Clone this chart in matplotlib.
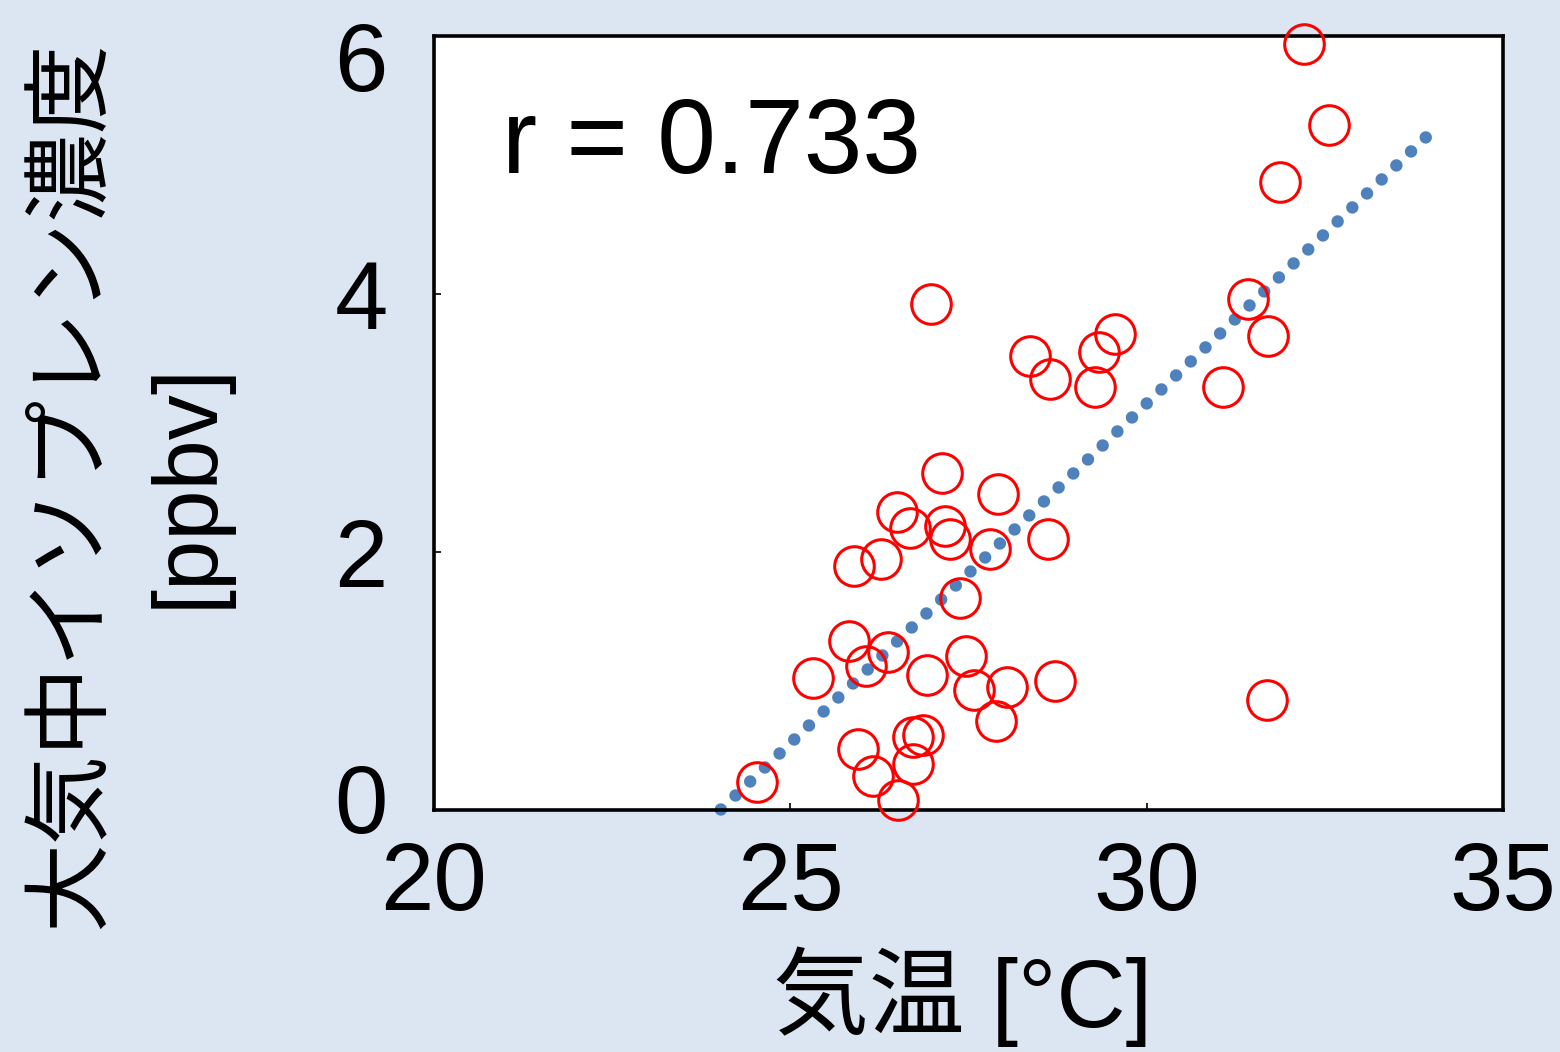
import matplotlib
matplotlib.use("Agg")
import matplotlib.pyplot as plt
import matplotlib.transforms as mtransforms
import numpy as np

# Data
temp = [32.21, 32.56, 31.87, 26.98, 31.43, 31.71, 28.37, 28.65, 29.56, 29.33,
        29.28, 31.07, 27.13, 27.92, 26.50, 26.68, 27.17, 27.24, 27.81, 28.62,
        25.90, 26.27, 27.38, 25.83, 26.37, 26.07, 25.32, 26.92, 27.47, 27.58,
        28.04, 28.71, 27.89, 31.69, 25.95, 26.73, 26.86, 26.72, 26.17, 26.52,
        24.54]
isoprene = [5.94, 5.31, 4.87, 3.92, 3.96, 3.67, 3.52, 3.34, 3.69, 3.55,
            3.28, 3.28, 2.61, 2.45, 2.31, 2.18, 2.20, 2.10, 2.02, 2.10,
            1.89, 1.94, 1.64, 1.31, 1.22, 1.11, 1.02, 1.04, 1.19, 0.93,
            0.95, 1.00, 0.69, 0.85, 0.47, 0.56, 0.58, 0.35, 0.26, 0.07,
            0.21]
trend_x = [24.03, 33.92]
trend_slope = 0.5273
trend_intercept = -12.671
r_text = "r = 0.733"
xticks = [20, 25, 30, 35]
yticks = [0, 2, 4, 6]

BG = "#DCE6F2"
LATIN = ["Liberation Sans", "Noto Sans CJK JP", "DejaVu Sans"]
JP = ["Noto Sans CJK JP", "Liberation Sans", "DejaVu Sans"]

plt.rcParams["font.family"] = LATIN

fig = plt.figure(figsize=(15.6, 10.52), dpi=100, facecolor=BG)
ax = fig.add_axes([433.5 / 1560, 1 - 809.5 / 1052, (1503 - 433.5) / 1560, (809.5 - 36) / 1052])
ax.set_facecolor("white")

tx = np.array(trend_x)
ty = trend_slope * tx + trend_intercept
lw_trend = 9.0
ax.plot(tx, ty, color="#4F81BD", lw=lw_trend, zorder=2, clip_on=False,
        linestyle=(0, (0.001, 14.6 / lw_trend)), dash_capstyle="round")

ax.plot(temp, isoprene, linestyle="none", marker="o", ms=28.5, mfc="none",
        mec="#FF0000", mew=2.2, zorder=3, clip_on=False)

ax.set_xlim(20, 35)
ax.set_ylim(0, 6)
ax.set_xticks(xticks)
ax.set_yticks(yticks)
ax.tick_params(direction="in", length=5, width=1.2, labelsize=69, color="black")
ax.tick_params(axis="y", pad=33)
ax.tick_params(axis="x", pad=22)
for s in ax.spines.values():
    s.set_linewidth(2.6)
    s.set_color("black")

# vertical nudges of individual y tick labels (in pixels, positive = up)
fig.canvas.draw()
nudges = {0: 12, 6: -20}
for val, lab in zip(yticks, ax.get_yticklabels()):
    if val in nudges:
        off = mtransforms.ScaledTranslation(0, nudges[val] / 100, fig.dpi_scale_trans)
        lab.set_transform(lab.get_transform() + off)

ax.text(0.064, 0.823, r_text, transform=ax.transAxes, fontsize=76,
        ha="left", va="baseline", family=LATIN)

fig.text(963 / 1560, 1 - 1027 / 1052, "気温 [°C]", fontsize=69, ha="center",
         va="baseline", family=LATIN)
fig.text(71 / 1560, 1 - 485 / 1052, "大気中イソプレン濃度", fontsize=64, rotation=90,
         ha="center", va="center", family=JP)
fig.text(188 / 1560, 1 - 485 / 1052, "[ppbv]", fontsize=65, rotation=90,
         ha="center", va="center", family=LATIN)

fig.savefig("out.png", dpi=100, facecolor=BG)
